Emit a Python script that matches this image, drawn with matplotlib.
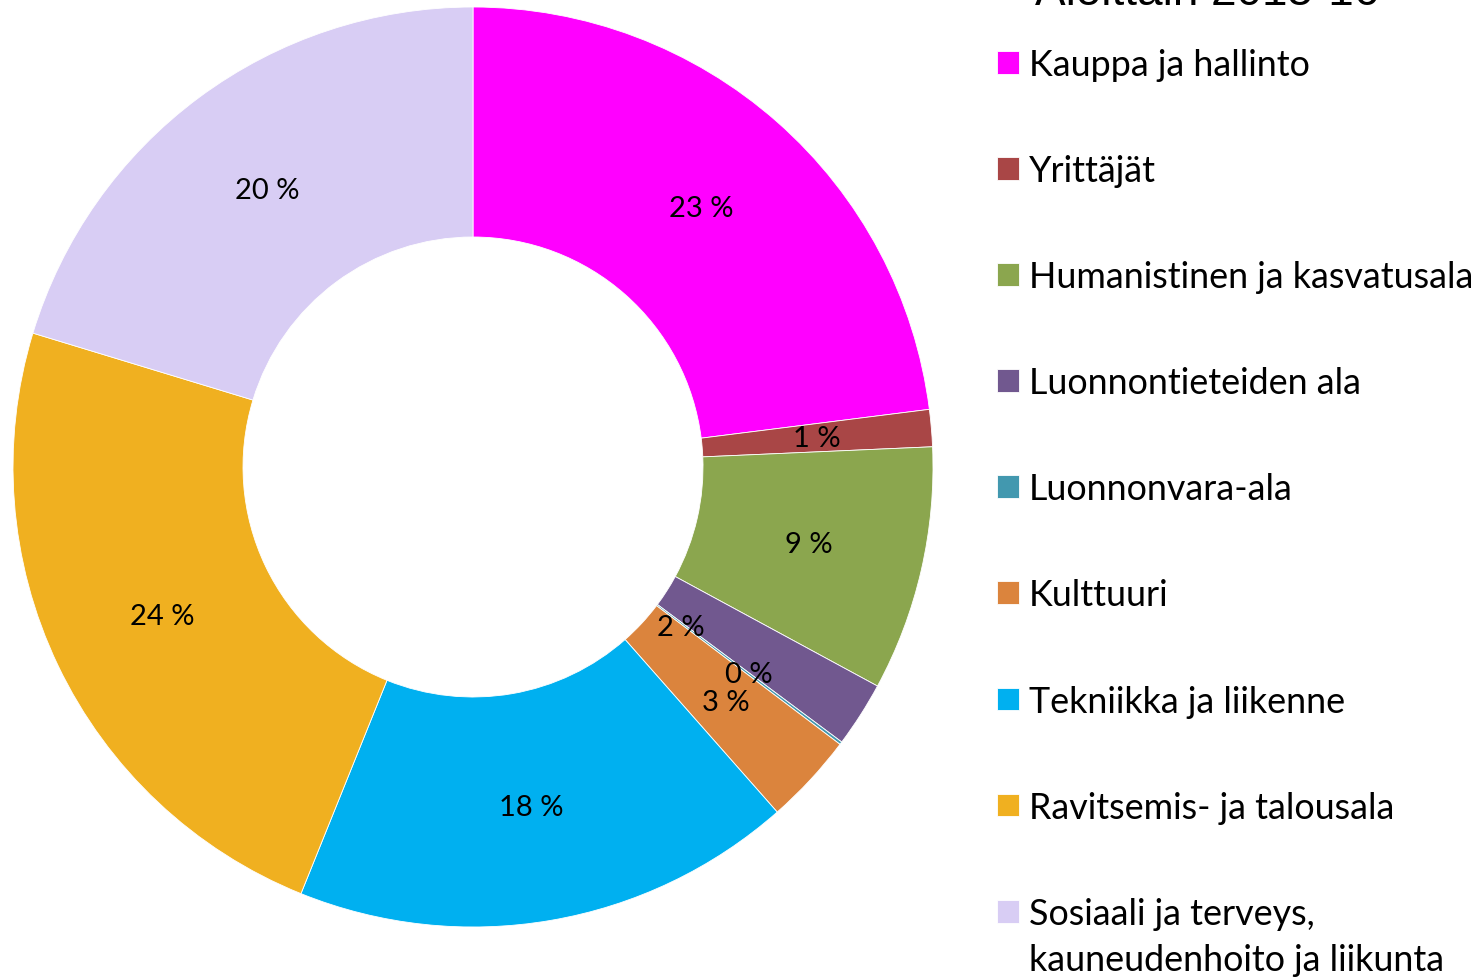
import numpy as np
from matplotlib import pyplot as plt

labels = ['Kauppa ja hallinto', 'Yrittäjät', 'Humanistinen ja kasvatusala',
          'Luonnontieteiden ala', 'Luonnonvara-ala', 'Kulttuuri',
          'Tekniikka ja liikenne', 'Ravitsemis- ja talousala',
          'Sosiaali ja terveys,\nkauneudenhoito ja liikunta']
values = [23.0, 1.3, 8.6, 2.3, 0.1, 3.2, 17.6, 23.6, 20.3]
pct_text = ['23 %', '1 %', '9 %', '2 %', '0 %', '3 %', '18 %', '24 %', '20 %']
colors = ['#FF00FF', '#A94646', '#8BA64E', '#71588F', '#4298AF',
          '#DB843D', '#00B0F0', '#F0B020', '#D8CDF4']

W, H = 1477, 979
fig = plt.figure(figsize=(W / 100, H / 100), dpi=100)
ax = fig.add_axes([13 / W, (H - 928) / H, 920 / W, 920 / H])

wedges, _ = ax.pie(values, colors=colors, startangle=90, counterclock=False,
                   radius=1.0, wedgeprops=dict(width=0.5, edgecolor='white', linewidth=0.6))
ax.set_xlim(-1, 1)
ax.set_ylim(-1, 1)
ax.set_aspect('equal')
ax.axis('off')

# label placement: radius, angle shift (deg) -- the small ones got nudged
lab_r = [0.75] * len(values)
lab_shift = [0] * len(values)
lab_r[3] = 0.57
lab_shift[3] = -5

for i, w in enumerate(wedges):
    ang = np.deg2rad((w.theta1 + w.theta2) / 2 + lab_shift[i])
    x = lab_r[i] * np.cos(ang)
    y = lab_r[i] * np.sin(ang)
    ax.text(x, y, pct_text[i], ha='center', va='center', fontsize=21,
            family='Lato', color='black')

# last label wraps in the original with the square next to the first line,
# so give the legend only the first line and put the second one under it
first_lines = [s.split('\n')[0] for s in labels]
leg = fig.legend(wedges, first_lines, loc='upper left', bbox_to_anchor=(997 / W, 1 - 49 / H),
                 frameon=False, prop={'family': 'Lato', 'size': 25.8},
                 handlelength=0.6, handleheight=0.6, handletextpad=0.3,
                 labelspacing=2.04, borderaxespad=0, borderpad=0)

fig.canvas.draw()
last = leg.get_texts()[-1]
bb = last.get_window_extent()
fig.text(bb.x0 / W, (bb.y0 - 46) / H, labels[-1].split('\n')[1], ha='left', va='bottom',
         family='Lato', fontsize=25.8)

fig.text(1207 / W, 1 - 5 / H, 'Aloittain 2015-16', ha='center', va='baseline',
         fontsize=33, family='Liberation Sans')

fig.savefig('out.png', dpi=100)
